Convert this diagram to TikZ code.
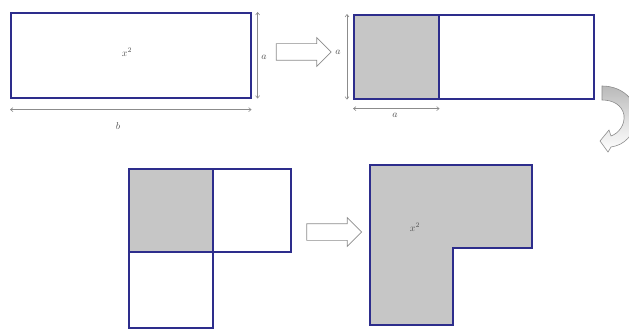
\documentclass[tikz,border=0pt]{standalone}
\usetikzlibrary{arrows.meta,shapes.arrows}
\definecolor{edgeblue}{RGB}{45,45,140}
\definecolor{areagray}{RGB}{198,198,198}
\definecolor{dimgray}{RGB}{140,140,140}
\definecolor{labelgray}{RGB}{80,80,80}
\tikzset{
  bluebox/.style={draw=edgeblue, line width=1.6pt, fill=white, inner sep=0pt, anchor=north west},
  graybox/.style={bluebox, fill=areagray},
  dimline/.style={draw=dimgray, line width=0.6pt, {Straight Barb[length=2.5pt,width=4pt]}-{Straight Barb[length=2.5pt,width=4pt]}},
  lbl/.style={text=labelgray, inner sep=1pt},
  blockarrow/.style={single arrow, draw=dimgray, fill=white, line width=0.7pt,
    minimum height=55pt, inner xsep=0pt, inner ysep=8pt, single arrow head extend=6pt}
}
\begin{document}
\begin{tikzpicture}[x=1pt, y=-1pt]
\useasboundingbox (0,0) rectangle (629,329);

% first rectangle, sides a and b
\node[bluebox, minimum width=240pt, minimum height=85pt] (r1) at (10,12) {};
\node[lbl] (r1x) at (127,52) {$x^2$};
\draw[dimline] ([xshift=6pt]r1.north east) -- ([xshift=6pt]r1.south east);
\node[lbl] (r1a) at (264,57) {$a$};
\draw[dimline] ([yshift=-11pt]r1.south west) -- ([yshift=-11pt]r1.south east);
\node[lbl] (r1b) at (118,126) {$b$};

\node[blockarrow] (ar1) at (299.5,52) {};

% same rectangle split into a square and the rest
\node[graybox, minimum width=85pt, minimum height=84pt] (sq2) at (353,14) {};
\node[bluebox, minimum width=155pt, minimum height=84pt] (r2) at (438,14) {};
\draw[dimline] ([xshift=-6pt]sq2.north west) -- ([xshift=-6pt]sq2.south west);
\node[lbl] (r2a1) at (338,52) {$a$};
\draw[dimline] ([yshift=-9pt]sq2.south west) -- ([yshift=-9pt]sq2.south east);
\node[lbl] (r2a2) at (395,115) {$a$};

% curved turning arrow at the right edge
\begin{scope}
\clip (0,0) rectangle (629,329);
\path[draw=dimgray, line width=0.6pt, top color=gray!55, bottom color=white, middle color=gray!25]
  (602,86) .. controls (625,86) and (640,104) .. (636,122)
  .. controls (633,135) and (625,145) .. (611,147)
  -- (608,152) -- (600,141) -- (609,130) -- (611,136)
  .. controls (619,133) and (625,125) .. (624,115)
  .. controls (622,105) and (613,100) .. (602,100) -- cycle;
\end{scope}

% square pieces rearranged
\node[graybox, minimum width=84pt, minimum height=83pt] (sq3) at (128,168) {};
\node[bluebox, minimum width=78pt, minimum height=83pt] (r3b) at (212,168) {};
\node[bluebox, minimum width=84pt, minimum height=76pt] (r3c) at (128,251) {};

\node[blockarrow] (ar2) at (330,232) {};

% resulting L-shaped area
\draw[edgeblue, line width=1.6pt, fill=areagray]
  (370,165) -- (532,165) -- (532,248) -- (453,248) -- (453,325) -- (370,325) -- cycle;
\node[lbl] (lx) at (415,227) {$x^2$};
\end{tikzpicture}
\end{document}
